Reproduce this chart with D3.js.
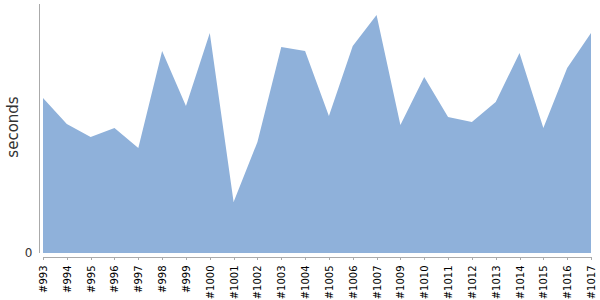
<!DOCTYPE html>
<html>
<head>
<meta charset="utf-8">
<script src="https://cdn.jsdelivr.net/npm/d3@7"></script>
<style>
  body { margin: 0; background: #fff; }
  .axis path, .axis line { stroke: #aaa; shape-rendering: crispEdges; }
  .axis text { font-family: "DejaVu Sans", sans-serif; font-size: 10px; fill: #000; }
</style>
</head>
<body>
<div id="chart"></div>
<script>
// builds along the x axis (#1008 is missing in the source)
const builds = ['#993', '#994', '#995', '#996', '#997', '#998', '#999', '#1000',
    '#1001', '#1002', '#1003', '#1004', '#1005', '#1006', '#1007', '#1009',
    '#1010', '#1011', '#1012', '#1013', '#1014', '#1015', '#1016', '#1017'];

// duration of each build, seconds
const seconds = [15.5, 12.9, 11.6, 12.5, 10.5, 20.2, 14.7, 22.0,
    5.1, 11.1, 20.6, 20.2, 13.7, 20.7, 23.8, 12.8,
    17.6, 13.6, 13.1, 15.1, 20.0, 12.5, 18.5, 22.0];

const yTicks = [0];

const width = 600, height = 300;

const svg = d3.select('#chart')
    .append('svg')
    .attr('width', width)
    .attr('height', height);

const scaleX = d3.scalePoint(builds, [43, 591]);
const scaleY = d3.scaleLinear([0, 24.9], [253, 4]);

// area
const area = d3.area()
    .x((d, i) => scaleX(builds[i]))
    .y0(scaleY(0))
    .y1(d => scaleY(d));

svg.append('path')
    .datum(seconds)
    .attr('d', area)
    .style('fill', '#8fb1da');

// x axis, slightly offset below the area
const axisX = svg.append('g')
    .classed('axis', true)
    .attr('transform', 'translate(0, 256.5)')
    .call(d3.axisBottom(scaleX).tickSizeOuter(0).tickSizeInner(3));
axisX.select('.domain').attr('d', `M${scaleX.range()[0]},0.5H${scaleX.range()[1]}`);
axisX.selectAll('text')
    .style('text-anchor', 'end')
    .attr('dx', '-9px')
    .attr('dy', '0.35em')
    .attr('x', 0).attr('y', 0)
    .attr('transform', 'rotate(-90)');

// y axis, offset left of the area
const axisY = svg.append('g')
    .classed('axis', true)
    .attr('transform', 'translate(39.5, 0)')
    .call(d3.axisLeft(scaleY).tickValues(yTicks).tickSizeOuter(0).tickSizeInner(0).tickPadding(7));
axisY.select('.domain').attr('d', `M0,${scaleY.range()[1]}V${scaleY.range()[0]}`);
axisY.selectAll('text').style('font-size', '12px').style('fill', '#333');

// y label
svg.append('text')
    .attr('transform', 'translate(13, 127)rotate(-90)')
    .attr('dy', '0.35em')
    .style('text-anchor', 'middle')
    .style('font-family', '"DejaVu Sans", sans-serif')
    .style('font-size', '15px')
    .style('fill', '#333')
    .text('seconds');
</script>
</body>
</html>
